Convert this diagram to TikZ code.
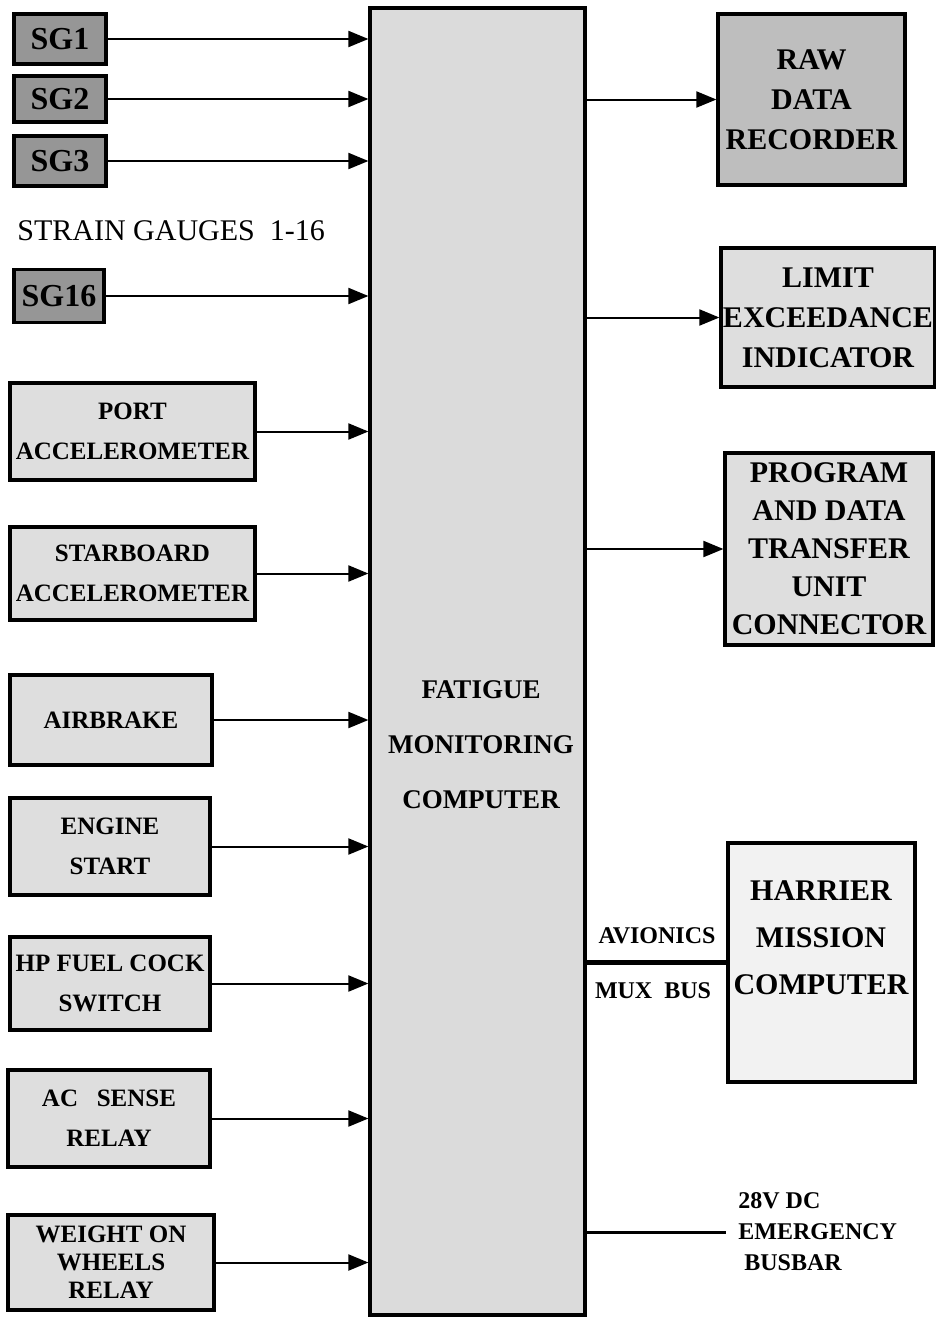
\documentclass[tikz,border=0pt]{standalone}
\usepackage{fontspec}
\setmainfont{Liberation Serif}
\usepackage{tikz}
\usetikzlibrary{arrows.meta, positioning, calc}
\definecolor{gaugegray}{RGB}{150, 150, 150}
\definecolor{recordgray}{RGB}{190, 190, 190}
\definecolor{unitgray}{RGB}{222, 222, 222}
\definecolor{palegray}{RGB}{242, 242, 242}
\tikzset{
    box/.style={rectangle, draw, line width=1.6pt, fill=unitgray, align=center, inner sep=1pt, font=\bfseries\fontsize{12.5}{20}\selectfont},
    gauge/.style={box, fill=gaugegray, minimum width=46pt, font=\bfseries\fontsize{16}{18}\selectfont},
    outbox/.style={box, font=\bfseries\fontsize{15}{20}\selectfont},
    line/.style={draw, line width=1pt, -{Triangle[length=10pt, width=8pt]}}
}

\begin{document}
\begin{tikzpicture}[
    x=0.5pt, y=-0.5pt,
    buslabel/.style={font=\bfseries\fontsize{12}{15}\selectfont, inner sep=1pt}
]
    \useasboundingbox (0,0) rectangle (936,1317);

    \node[rectangle, draw, line width=1.6pt, fill=black!14, minimum width=107.5pt, minimum height=653.5pt] (fmc) at (477.5,661.5) {};
    \node[font=\bfseries\fontsize{13.5}{27.5}\selectfont, align=center] (fmctext) at (481,745) {FATIGUE\\MONITORING\\COMPUTER};

    % strain gauges
    \node[gauge, minimum height=25pt] (sg1) at (60,39) {SG1};
    \node[gauge, minimum height=23pt] (sg2) at (60,99) {SG2};
    \node[gauge, minimum height=25pt] (sg3) at (60,161) {SG3};
    \node[anchor=west, inner sep=0pt, font=\fontsize{15}{18}\selectfont] (sglabel) at (17,231) {STRAIN GAUGES\ \ 1-16};
    \node[gauge, minimum width=45pt, minimum height=26.5pt] (sg16) at (59,296) {SG16};

    % other inputs
    \node[box, minimum width=122.5pt, minimum height=48.5pt] (port) at (132.5,431.5) {PORT\\ACCELEROMETER};
    \node[box, minimum width=122.5pt, minimum height=46.5pt] (starboard) at (132.5,573.5) {STARBOARD\\ACCELEROMETER};
    \node[box, minimum width=101pt, minimum height=45pt] (airbrake) at (111,720) {AIRBRAKE};
    \node[box, minimum width=100pt, minimum height=48.5pt] (engine) at (110,846.5) {ENGINE\\START};
    \node[box, minimum width=100pt, minimum height=46.5pt] (hpcock) at (110,983.5) {HP FUEL COCK\\SWITCH};
    \node[box, minimum width=101pt, minimum height=48.5pt] (acsense) at (109,1118.5) {AC\ \ \ SENSE\\RELAY};
    \node[box, minimum width=103pt, minimum height=47.5pt, font=\bfseries\fontsize{12.5}{14}\selectfont] (wow) at (111,1262.5) {WEIGHT ON\\WHEELS\\RELAY};

    \draw[line] (sg1.east) -- (sg1.east -| fmc.west);
    \draw[line] (sg2.east) -- (sg2.east -| fmc.west);
    \draw[line] (sg3.east) -- (sg3.east -| fmc.west);
    \draw[line] (sg16.east) -- (sg16.east -| fmc.west);
    \draw[line] (port.east) -- (port.east -| fmc.west);
    \draw[line] (starboard.east) -- (starboard.east -| fmc.west);
    \draw[line] (airbrake.east) -- (airbrake.east -| fmc.west);
    \draw[line] (engine.east) -- (engine.east -| fmc.west);
    \draw[line] (hpcock.east) -- (hpcock.east -| fmc.west);
    \draw[line] (acsense.east) -- (acsense.east -| fmc.west);
    \draw[line] (wow.east) -- (wow.east -| fmc.west);

    % outputs
    \node[outbox, fill=recordgray, minimum width=93.5pt, minimum height=85.5pt] (recorder) at (811.5,99.5) {RAW\\DATA\\RECORDER};
    \node[outbox, minimum width=106pt, minimum height=69.5pt] (limit) at (828,317.5) {LIMIT\\EXCEEDANCE\\INDICATOR};
    \node[outbox, minimum width=104pt, minimum height=96pt, font=\bfseries\fontsize{15}{19}\selectfont] (pdtu) at (829,549) {PROGRAM\\AND DATA\\TRANSFER\\UNIT\\CONNECTOR};

    \draw[line] (fmc.east |- recorder.west) -- (recorder.west);
    \draw[line] (fmc.east |- limit.west) -- (limit.west);
    \draw[line] (fmc.east |- pdtu.west) -- (pdtu.west);

    % mux bus and power
    \node[box, fill=palegray, minimum width=93.5pt, minimum height=119.5pt] (mission) at (821.5,962.5) {};
    \node[font=\bfseries\fontsize{15}{23.5}\selectfont, align=center] (missiontext) at (821,938) {HARRIER\\MISSION\\COMPUTER};
    \draw[line width=2.5pt] (fmc.east |- mission.west) -- (mission.west);
    \node[buslabel] (avionics) at (657,936) {AVIONICS};
    \node[buslabel] (muxbus) at (653,991) {MUX\ \ BUS};

    \node[buslabel, anchor=west, align=left, inner xsep=6pt, font=\bfseries\fontsize{12}{15.5}\selectfont] (busbar) at (726,1232) {28V DC\\EMERGENCY\\\ BUSBAR};
    \draw[line width=1.5pt] (fmc.east |- busbar.west) -- (busbar.west);

\end{tikzpicture}
\end{document}
